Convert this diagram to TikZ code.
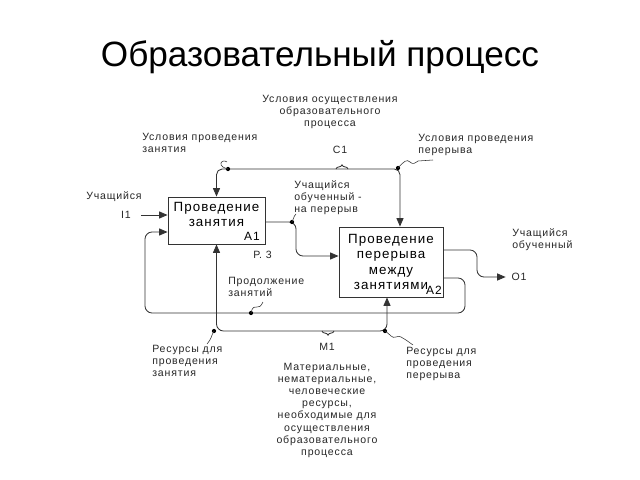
\documentclass[tikz,border=0pt]{standalone}
\usepackage{fontspec}
\setmainfont{Liberation Sans}
\newfontfamily\lblfont[LetterSpace=8]{Liberation Sans}
\usetikzlibrary{arrows.meta,decorations.pathreplacing}

\begin{document}
\begin{tikzpicture}[x=0.025cm, y=-0.025cm,
  func/.style={draw=black!80, line width=0.6pt, font=\lblfont\fontsize{9.5}{11}\selectfont, align=center, inner sep=0pt},
  tag/.style={font=\lblfont\fontsize{8.5}{9}\selectfont, inner sep=0pt},
  lbl/.style={font=\lblfont\fontsize{7.5}{8.6}\selectfont, inner sep=0pt, text=black!85},
  ln/.style={draw=black!80, line width=0.6pt},
  arr/.style={-{Triangle[length=6pt,width=5pt]}},
  twotip/.style={{Triangle[length=6pt,width=5pt]}-{Triangle[length=6pt,width=5pt]}},
  wave/.style={draw=black!80, line width=0.4pt}]
\useasboundingbox (0,0) rectangle (640,480);

\node[font=\fontsize{25}{30}\selectfont] (title) at (320,57) {Образовательный процесс};

\node[func, minimum width=2.425cm, minimum height=1.175cm, text depth=9pt] (A1) at (216.5,220.5) {Проведение\\занятия};
\node[func, minimum width=2.6cm, minimum height=1.75cm] (A2) at (391,262) {Проведение\\перерыва\\между\\занятиями};
\node[tag] (a1tag) at (252,236) {A1};
\node[tag] (a2tag) at (434,290) {A2};
\node[lbl, anchor=west] (p3) at (253,255) {Р. 3};

\node[lbl, anchor=north, align=center] (cond) at (330,95) {Условия осуществления\\образовательного\\процесса};
\node[lbl, anchor=north west, align=left] (condA) at (142,133) {Условия проведения\\занятия};
\node[lbl, anchor=north west, align=left] (condB) at (418,134) {Условия проведения\\перерыва};
\node[lbl] (c1) at (340,150) {C1};
\node[lbl, anchor=west] (inlbl) at (86,197) {Учащийся};
\node[lbl] (i1) at (126,215) {I1};
\node[lbl, anchor=north west, align=left] (mid) at (294,180) {Учащийся\\обученный -\\на перерыв};
\node[lbl, anchor=north west, align=left] (outlbl) at (512,228) {Учащийся\\обученный};
\node[lbl] (o1) at (519,277) {O1};
\node[lbl, anchor=north west, align=left] (cont) at (228,277) {Продолжение\\занятий};
\node[lbl, anchor=north west, align=left] (resA) at (152,345) {Ресурсы для\\проведения\\занятия};
\node[lbl] (m1) at (327,347) {M1};
\node[lbl, anchor=north west, align=left] (resB) at (406,347) {Ресурсы для\\проведения\\перерыва};
\node[lbl, anchor=north, align=center] (mech) at (327,363) {Материальные,\\нематериальные,\\человеческие\\ресурсы,\\необходимые для\\осуществления\\образовательного\\процесса};

\coordinate (c1r) at (400,169);
\coordinate (c1l) at (A1.north |- c1r);
\coordinate (cl) at (228,169);
\coordinate (cr) at (398,168);
\draw[ln, rounded corners=4pt, twotip] (A1.north) -- (c1l) -- (c1r) -- (A2.north -| c1r);
\fill (cl) circle (1.5pt);
\fill (cr) circle (1.5pt);
\draw[ln, decorate, decoration={brace, amplitude=3pt}] (336,169) -- (348,169);
\draw[wave] (cl) .. controls (224,168) and (220,166) .. (221,163) .. controls (222,160) and (226,161) .. (227,162);
\draw[wave] (cr) .. controls (404,161) and (407,159) .. (410,162) .. controls (413,165) and (415,163) .. (418,161) -- (433,160);

\draw[ln, arr, shorten <=7pt] (i1) -- (A1.west |- i1);

\draw[ln, rounded corners=5pt, arr] (A2.east |- 0,278) -- (465,278) -- (465,313) -- (145,313) -- (145,232) -- (A1.west |- 0,232);
\coordinate (pz) at (251,313);
\fill (pz) circle (1.5pt);
\draw[wave] (pz) .. controls (252,307) and (255,306) .. (257,307) .. controls (259,308) and (261,306) .. (263,302);

\coordinate (ob) at (292,222);
\draw[ln, rounded corners=5pt, arr] (A1.east |- ob) -- (296,222) -- (296,256) -- (A2.west |- 0,256);
\fill (ob) circle (1.5pt);
\draw[wave] (ob) .. controls (294,219) and (293,217) .. (296,214);

\draw[ln, rounded corners=5pt, arr, shorten >=4pt] (A2.east |- 0,250) -- (477,250) -- (477,277) -- (o1);

\coordinate (m1r) at (387,331);
\coordinate (m1l) at (A1.south |- m1r);
\coordinate (ml) at (214,331);
\coordinate (mr) at (385,331);
\draw[ln, rounded corners=5pt, twotip] (A1.south) -- (m1l) -- (m1r) -- (A2.south -| m1r);
\fill (ml) circle (1.5pt);
\fill (mr) circle (1.5pt);
\draw[ln, decorate, decoration={brace, amplitude=3pt}] (334,331) -- (322,331);
\draw[wave] (ml) .. controls (211,336) and (212,338) .. (207,344);
\draw[wave] (mr) .. controls (390,334) and (392,339) .. (396,337) .. controls (400,335) and (402,338) .. (406,340) -- (413,345);
\end{tikzpicture}
\end{document}
